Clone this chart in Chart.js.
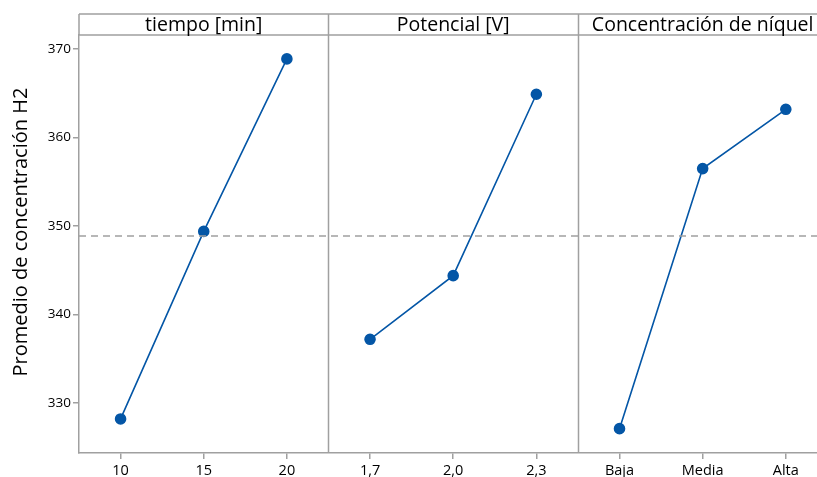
<!DOCTYPE html>
<html lang="es">
<head>
<meta charset="UTF-8">
<title>Efectos principales</title>
<script src="https://cdn.jsdelivr.net/npm/chart.js"></script>
<style>
    html, body { margin: 0; padding: 0; background: #fff; overflow: hidden; }
    #wrap { width: 834px; height: 477px; position: relative; }
</style>
</head>
<body>
<div id="wrap"><canvas id="chart"></canvas></div>
<script>
    // panel headers and levels
    const factores = ['tiempo [min]', 'Potencial [V]', 'Concentración de níquel'];
    const nivelesTiempo = ['10', '15', '20'];
    const nivelesPotencial = ['1,7', '2,0', '2,3'];
    const nivelesNiquel = ['Baja', 'Media', 'Alta'];

    // mean response per level
    const mediasTiempo = [328.2, 349.4, 368.9];
    const mediasPotencial = [337.2, 344.4, 364.9];
    const mediasNiquel = [327.1, 356.5, 363.2];

    const yTicks = [330, 340, 350, 360, 370];
    const tituloY = 'Promedio de concentración H2';

    const etiquetasX = [...nivelesTiempo, ...nivelesPotencial, ...nivelesNiquel];
    const todas = [...mediasTiempo, ...mediasPotencial, ...mediasNiquel];
    const mediaGeneral = todas.reduce((a, b) => a + b, 0) / todas.length;

    const azul = '#0456a6';
    const gris = '#a0a0a0';

    function puntos(valores, panel) {
        return valores.map((v, i) => ({ x: panel * 3 + i + 0.5, y: v }));
    }

    function serie(valores, panel) {
        return {
            data: puntos(valores, panel),
            showLine: true,
            borderColor: azul,
            backgroundColor: azul,
            borderWidth: 1.6,
            pointRadius: 5,
            pointHoverRadius: 5
        };
    }

    // header strip, panel dividers, top frame and y title
    const paneles = {
        id: 'paneles',
        afterDraw(chart) {
            const ctx = chart.ctx;
            const a = chart.chartArea;
            const x = chart.scales.x;
            const top = 14;
            ctx.save();
            ctx.strokeStyle = gris;
            ctx.lineWidth = 1.5;
            ctx.beginPath();
            ctx.moveTo(a.left, top);
            ctx.lineTo(a.right, top);
            ctx.moveTo(a.left, a.top);
            ctx.lineTo(a.right, a.top);
            ctx.moveTo(a.left, top);
            ctx.lineTo(a.left, a.top);
            [3, 6].forEach(v => {
                const px = Math.round(x.getPixelForValue(v)) + 0.5;
                ctx.moveTo(px, top);
                ctx.lineTo(px, a.bottom);
            });
            ctx.stroke();
            ctx.fillStyle = '#000';
            ctx.font = '500 19.5px "Open Sans"';
            ctx.textAlign = 'center';
            ctx.textBaseline = 'middle';
            factores.forEach((f, i) => {
                const cx = x.getPixelForValue(i * 3 + 1.5);
                ctx.fillText(f, cx, (top + a.top) / 2 + 1);
            });
            ctx.translate(21, 232);
            ctx.rotate(-Math.PI / 2);
            ctx.font = '20px "Open Sans"';
            ctx.fillText(tituloY, 0, 0);
            ctx.restore();
        }
    };

    new Chart(document.getElementById('chart'), {
        type: 'scatter',
        data: {
            datasets: [
                {
                    data: [{ x: 0, y: mediaGeneral }, { x: 9, y: mediaGeneral }],
                    showLine: true,
                    borderColor: gris,
                    borderWidth: 1.5,
                    borderDash: [7, 5],
                    pointRadius: 0
                },
                serie(mediasTiempo, 0),
                serie(mediasPotencial, 1),
                serie(mediasNiquel, 2)
            ]
        },
        options: {
            responsive: true,
            maintainAspectRatio: false,
            animation: false,
            layout: { padding: { top: 35, left: 0, right: 0, bottom: 0 } },
            plugins: {
                legend: { display: false },
                tooltip: { enabled: false }
            },
            scales: {
                x: {
                    type: 'linear',
                    min: 0,
                    max: 9,
                    afterBuildTicks: s => { s.ticks = etiquetasX.map((_, i) => ({ value: i + 0.5 })); },
                    afterFit: s => { s.height = 24; },
                    ticks: {
                        autoSkip: false,
                        maxRotation: 0,
                        padding: 3,
                        color: '#000',
                        font: { family: 'Open Sans', size: 14.5, weight: '500' },
                        callback: (v, i) => etiquetasX[i]
                    },
                    grid: { drawOnChartArea: false, drawTicks: true, tickLength: 6, color: gris, lineWidth: 1.5 },
                    border: { color: gris, width: 1.5 }
                },
                y: {
                    min: 324.35,
                    max: 371.6,
                    afterBuildTicks: s => { s.ticks = yTicks.map(v => ({ value: v })); },
                    afterFit: s => { s.width = 79; },
                    ticks: {
                        padding: 2,
                        color: '#000',
                        font: { family: 'Open Sans', size: 13.5, weight: '500' }
                    },
                    grid: { drawOnChartArea: false, drawTicks: true, tickLength: 6, color: gris, lineWidth: 1.5 },
                    border: { color: gris, width: 1.5 }
                }
            }
        },
        plugins: [paneles]
    });
</script>
</body>
</html>
